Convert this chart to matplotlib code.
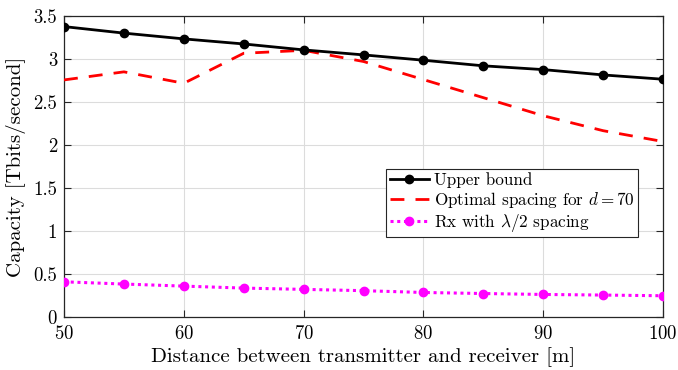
import matplotlib
matplotlib.use("Agg")
import matplotlib.pyplot as plt
from matplotlib.ticker import FormatStrFormatter

plt.rcParams['font.family'] = 'cmr10'
plt.rcParams['mathtext.fontset'] = 'cm'
plt.rcParams['axes.formatter.use_mathtext'] = True

distance = [50, 55, 60, 65, 70, 75, 80, 85, 90, 95, 100]
upper_bound = [3.376, 3.30, 3.233, 3.174, 3.105, 3.047, 2.985, 2.92, 2.876, 2.814, 2.764]
optimal_d70 = [2.756, 2.85, 2.717, 3.066, 3.10, 2.97, 2.76, 2.55, 2.34, 2.166, 2.04]
half_lambda = [0.41, 0.384, 0.36, 0.337, 0.322, 0.307, 0.286, 0.274, 0.263, 0.256, 0.248]

fig = plt.figure(figsize=(6.78, 3.70), dpi=100)
ax = fig.add_axes([0.0944, 0.143, 0.8836, 0.814])

ax.plot(distance, upper_bound, '-o', color='black', lw=2, ms=6, label='Upper bound', zorder=4)
ax.plot(distance, optimal_d70, '--', color='red', lw=2, dashes=(5, 4), label=r'Optimal spacing for $d = 70$', zorder=3)
ax.plot(distance, half_lambda, ':o', color='magenta', lw=2.2, ms=6, dashes=(1, 1.2),
        label=r'Rx with $\lambda/2$ spacing', zorder=3)

ax.set_xlim(50, 100)
ax.set_ylim(0, 3.5)
ax.set_xticks(range(50, 101, 10))
ax.set_yticks([0, 0.5, 1, 1.5, 2, 2.5, 3, 3.5])
ax.yaxis.set_major_formatter(FormatStrFormatter('%g'))
ax.grid(True, color='#dcdcdc', lw=0.8)
ax.set_axisbelow(True)
ax.tick_params(direction='in', top=True, right=True, labelsize=13.5, colors='#262626', length=5)
ax.tick_params(axis='x', pad=6)
ax.tick_params(axis='y', pad=5)
for tl in ax.get_xticklabels() + ax.get_yticklabels():
    tl.set_color('black')
for s in ax.spines.values():
    s.set_color('#262626')
    s.set_linewidth(0.9)

ax.set_xlabel('Distance between transmitter and receiver [m]', fontsize=15, labelpad=3)
ax.set_ylabel('Capacity [Tbits/second]', fontsize=15, labelpad=5)

leg = ax.legend(loc='lower left', bbox_to_anchor=(0.538, 0.265), fontsize=12.3,
                frameon=True, fancybox=False, edgecolor='#262626', framealpha=1,
                handlelength=2.3, handletextpad=0.3, borderpad=0.2, labelspacing=0.1,
                borderaxespad=0)
leg.get_frame().set_linewidth(0.8)

fig.savefig('out.png', dpi=100)
